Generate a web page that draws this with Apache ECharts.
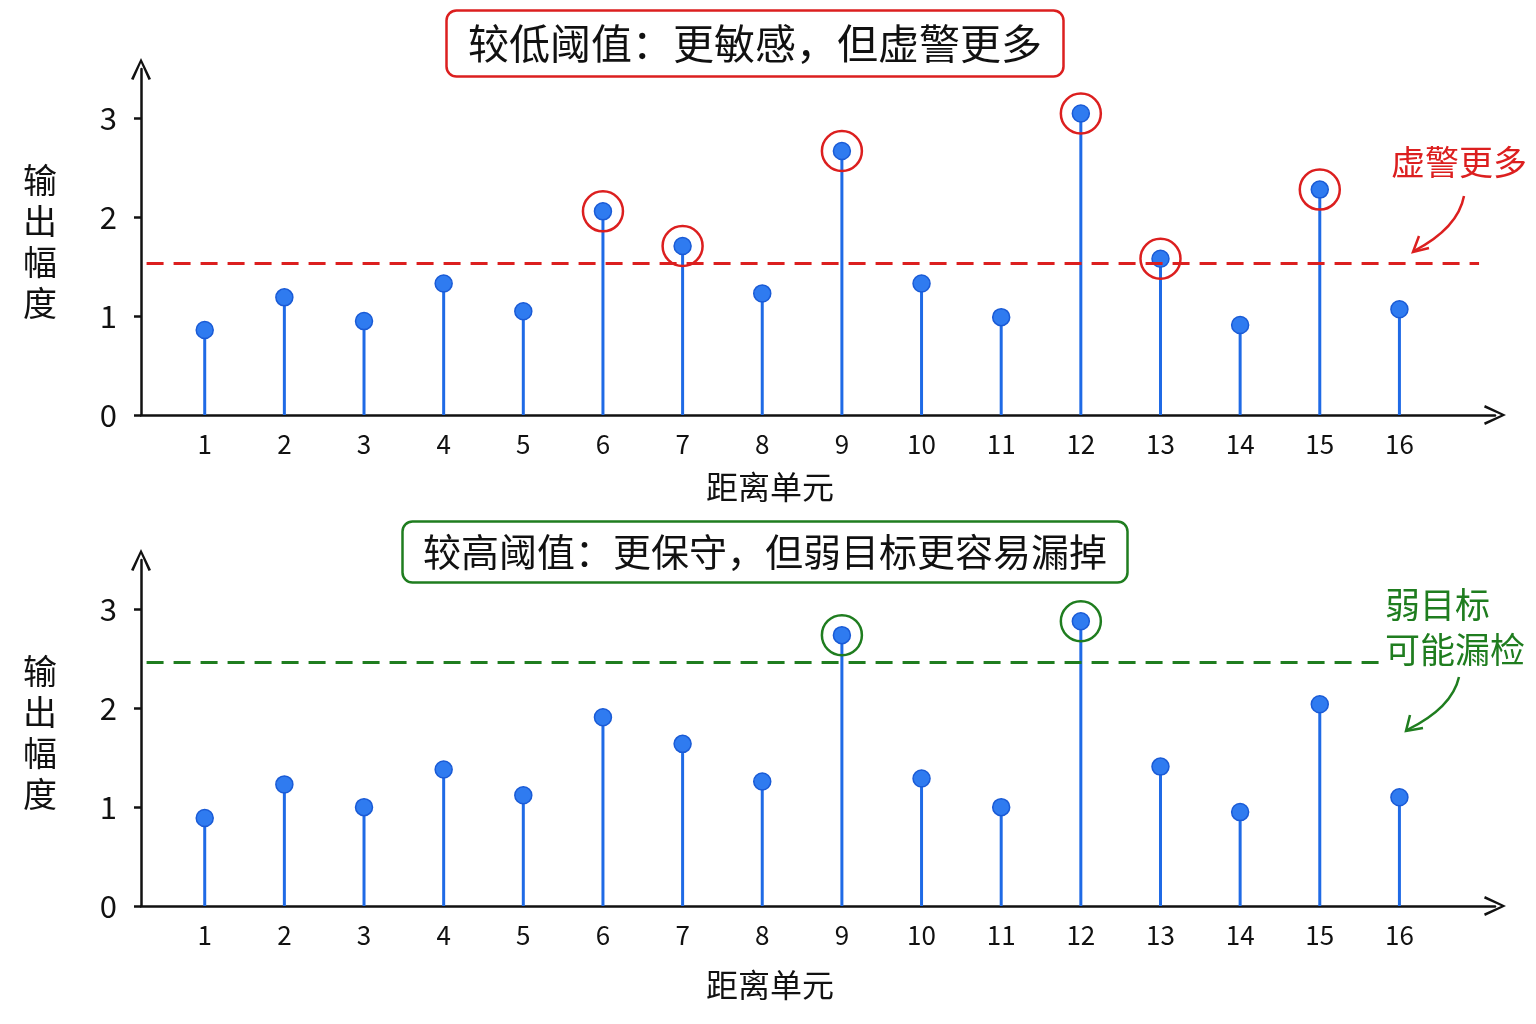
<!DOCTYPE html>
<html>
<head>
<meta charset="utf-8">
<script src="https://cdn.jsdelivr.net/npm/echarts@6/dist/echarts.min.js"></script>
<style>html,body{margin:0;padding:0;background:#fff;}#c{width:1536px;height:1024px;}</style>
</head>
<body>
<div id="c"></div>
<script>
// ---- data ----
const cells = [1,2,3,4,5,6,7,8,9,10,11,12,13,14,15,16];
const lowValues  = [0.86,1.19,0.95,1.33,1.05,2.06,1.71,1.23,2.67,1.33,0.99,3.05,1.58,0.91,2.28,1.07];
const highValues = [0.89,1.23,1.00,1.38,1.12,1.91,1.64,1.26,2.74,1.29,1.00,2.88,1.41,0.95,2.04,1.10];
const lowThreshold = 1.54;
const highThreshold = 2.47;
const yTicks = [0,1,2,3];
const topTitle = '较低阈值：更敏感，但虚警更多';
const bottomTitle = '较高阈值：更保守，但弱目标更容易漏掉';
const xName = '距离单元';
const yName = '输出幅度';
const noteTop = '虚警更多';
const noteBottom = ['弱目标','可能漏检'];

// ---- style ----
const BLUE = '#1f6ae6';
const RED = '#dc1f1f';
const GREEN = '#1f7d1f';
const FONT = '"Noto Sans CJK SC", "Noto Sans", sans-serif';
const chevron = 'path://M10,0 L20,21 L17.5,22 L10,5 L2.5,22 L0,21 Z';

const chart = echarts.init(document.getElementById('c'));

function xAxisCfg(gi, gap) {
  return {
    gridIndex: gi, type: 'value', min: 0.2, max: 17.2,
    name: xName, nameLocation: 'middle', nameGap: gap,
    nameTextStyle: {fontFamily: FONT, fontSize: 32, color: '#111', padding: [0, 96, 0, 0]},
    axisLine: {show: true, lineStyle: {color: '#111', width: 2.5}, symbol: ['none', chevron], symbolSize: [20, 22]},
    axisTick: {show: false},
    axisLabel: {customValues: cells, fontFamily: FONT, fontSize: 26, color: '#111', margin: 16},
    splitLine: {show: false}
  };
}
function yAxisCfg(gi, padTop) {
  return {
    gridIndex: gi, type: 'value', min: 0, max: 3.5,
    name: yName.split('').join('\n'), nameLocation: 'middle', nameRotate: 0, nameGap: 84,
    nameTextStyle: {fontFamily: FONT, fontSize: 34, color: '#111', lineHeight: 41, padding: [padTop, 0, 0, 0]},
    axisLine: {show: true, lineStyle: {color: '#111', width: 2.5}, symbol: ['none', chevron], symbolSize: [20, 22]},
    axisTick: {show: true, customValues: yTicks, length: 7, lineStyle: {color: '#111', width: 2.5}},
    axisLabel: {customValues: yTicks, fontFamily: FONT, fontSize: 31, color: '#111', margin: 24},
    splitLine: {show: false}
  };
}
function panelSeries(idx, values, thr, color, xEnd) {
  const pts = cells.map((c, i) => [c, values[i]]);
  const hits = pts.filter(p => p[1] > thr);
  return [
    {
      type: 'bar', xAxisIndex: idx, yAxisIndex: idx, data: pts, barWidth: 3,
      itemStyle: {color: BLUE}, silent: true, z: 2,
      markLine: {
        silent: true, symbol: ['none', 'none'], label: {show: false},
        lineStyle: {color: color, width: 3, type: [17, 10]},
        data: [[{coord: [0.27, thr]}, {coord: [xEnd, thr]}]]
      }
    },
    {
      type: 'scatter', xAxisIndex: idx, yAxisIndex: idx, data: pts, symbolSize: 17,
      itemStyle: {color: '#2f7bf0', borderColor: '#1a5bd6', borderWidth: 1.5, opacity: 1}, z: 4
    },
    {
      type: 'scatter', xAxisIndex: idx, yAxisIndex: idx, data: hits, symbolSize: 40,
      itemStyle: {color: 'rgba(0,0,0,0)', borderColor: color, borderWidth: 2.5, opacity: 1}, z: 5
    }
  ];
}

chart.setOption({
  backgroundColor: '#fff',
  animation: false,
  title: [
    {text: topTitle, left: 446, top: 10, padding: [13, 22], borderColor: RED, borderWidth: 2.5, borderRadius: 10,
     textStyle: {fontFamily: FONT, fontSize: 41, fontWeight: 'normal', color: '#111'}},
    {text: bottomTitle, left: 402, top: 521, padding: [12, 21], borderColor: GREEN, borderWidth: 2.5, borderRadius: 10,
     textStyle: {fontFamily: FONT, fontSize: 38, fontWeight: 'normal', color: '#111'}}
  ],
  grid: [
    {left: 141, width: 1354, top: 69, height: 346},
    {left: 141, width: 1354, top: 560, height: 346}
  ],
  xAxis: [xAxisCfg(0, 56), xAxisCfg(1, 63)],
  yAxis: [yAxisCfg(0, 26), yAxisCfg(1, 14)],
  series: [].concat(
    panelSeries(0, lowValues, lowThreshold, RED, 17.0),
    panelSeries(1, highValues, highThreshold, GREEN, 15.75)
  ),
  graphic: [
    {type: 'text', left: 1391, top: 145, style: {text: noteTop, fontFamily: FONT, fontSize: 34, fill: RED}},
    {type: 'bezierCurve', shape: {x1: 1464, y1: 196, cpx1: 1458, cpy1: 228, x2: 1414, y2: 251},
     style: {stroke: RED, lineWidth: 2.5, fill: null}},
    {type: 'polyline', shape: {points: [[1419, 236], [1413, 252], [1429, 248]]},
     style: {stroke: RED, lineWidth: 2.5, fill: null}},
    {type: 'text', left: 1385, top: 582, style: {text: noteBottom.join('\n'), fontFamily: FONT, fontSize: 35, lineHeight: 45, fill: GREEN}},
    {type: 'bezierCurve', shape: {x1: 1459, y1: 677, cpx1: 1452, cpy1: 708, x2: 1407, y2: 730},
     style: {stroke: GREEN, lineWidth: 2.5, fill: null}},
    {type: 'polyline', shape: {points: [[1410, 715], [1406, 731], [1423, 728]]},
     style: {stroke: GREEN, lineWidth: 2.5, fill: null}}
  ]
});
</script>
</body>
</html>
